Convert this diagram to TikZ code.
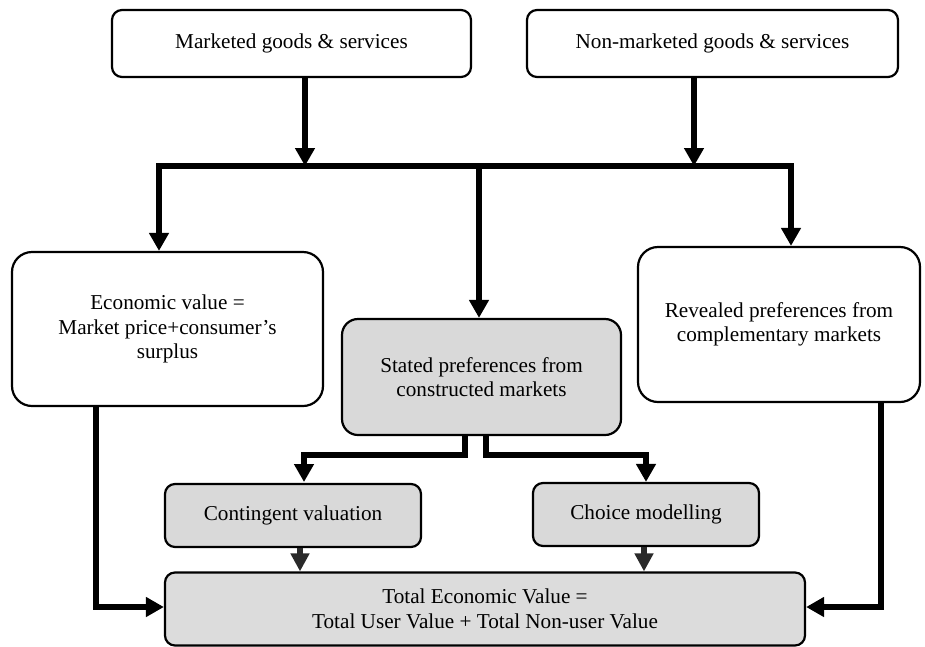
\documentclass[tikz,border=0pt]{standalone}
\usepackage{fontspec}
\setmainfont{Liberation Serif}
\usetikzlibrary{arrows.meta}
\definecolor{boxgray}{HTML}{D9D9D9}
\definecolor{tevgray}{HTML}{DCDCDC}
\definecolor{stubgray}{HTML}{2A2A2A}
\begin{document}
\begin{tikzpicture}[x=1pt,y=-1pt,
  box/.style={draw=black, line width=2.2pt, rounded corners=#1, align=center,
    inner sep=0pt, font=\fontsize{21.2}{24.5}\selectfont},
  box/.default=10pt,
  conn/.style={line width=6pt, -{Triangle[length=18pt,width=19pt]}},
  connb/.style={line width=6pt, draw=stubgray, -{Triangle[length=18pt,width=18pt,fill=stubgray]}},
  busline/.style={line width=6pt, line cap=rect}
]
\useasboundingbox (0,0) rectangle (925,646);
\fill[white] (0,0) rectangle (925,646);

% nodes
\node[box, minimum width=359pt, minimum height=67pt] (mk) at (291.5,43.5) {Marketed goods \& services};
\node[box, minimum width=371pt, minimum height=67pt] (nmk) at (712.5,43.5) {Non-marketed goods \& services};
\node[box=20pt, minimum width=311pt, minimum height=154pt] (ev) at (167.5,329) {Economic value =\\Market price+consumer{\char"0027}s\\surplus};
\node[box=16pt, fill=boxgray, minimum width=279pt, minimum height=116pt] (sp) at (481.5,377) {Stated preferences from\\constructed markets};
\node[box=20pt, minimum width=282pt, minimum height=155pt] (rp) at (779,324.5) {Revealed preferences from\\complementary markets};
\node[box, fill=boxgray, minimum width=256pt, minimum height=63pt] (cv) at (293,515.5) {Contingent valuation};
\node[box, fill=boxgray, minimum width=226pt, minimum height=63pt] (cm) at (646,514.5) {Choice modelling};
\node[box, fill=tevgray, minimum width=640pt, minimum height=73pt] (tev) at (485,609) {Total Economic Value =\\Total User Value + Total Non-user Value};

% coordinates
\coordinate (bL) at (159,166);
\coordinate (bR) at (791,166);
\coordinate (bM) at (479,166);
\coordinate (b1) at (305,166);
\coordinate (b2) at (694,166);
\coordinate (sL) at (465,455);
\coordinate (sR) at (486,455);
\coordinate (cvin) at (304,482);
\coordinate (d1) at (300,0);
\coordinate (d2) at (644,0);
\coordinate (eL) at (96,607);
\coordinate (eR) at (881,607);

% top arrows and bus
\draw[conn] (mk.south -| b1) -- (b1);
\draw[conn] (nmk.south -| b2) -- (b2);
\draw[busline] (bL) -- (bR);
\draw[conn] (bL) -- (ev.north -| bL);
\draw[conn] (bM) -- (sp.north -| bM);
\draw[conn] (bR) -- (rp.north -| bR);

% split below stated preferences
\draw[conn] (sp.south -| sL) -- (sL) -| (cvin);
\draw[conn] (sp.south -| sR) -- (sR) -| (cm.north);

% short arrows to total
\draw[connb] (cv.south -| d1) -- (tev.north -| d1);
\draw[connb] (cm.south -| d2) -- (tev.north -| d2);

% side arrows
\draw[conn] (ev.south -| eL) |- (tev.west |- eL);
\draw[conn] (rp.south -| eR) |- (tev.east |- eR);
\end{tikzpicture}
\end{document}
